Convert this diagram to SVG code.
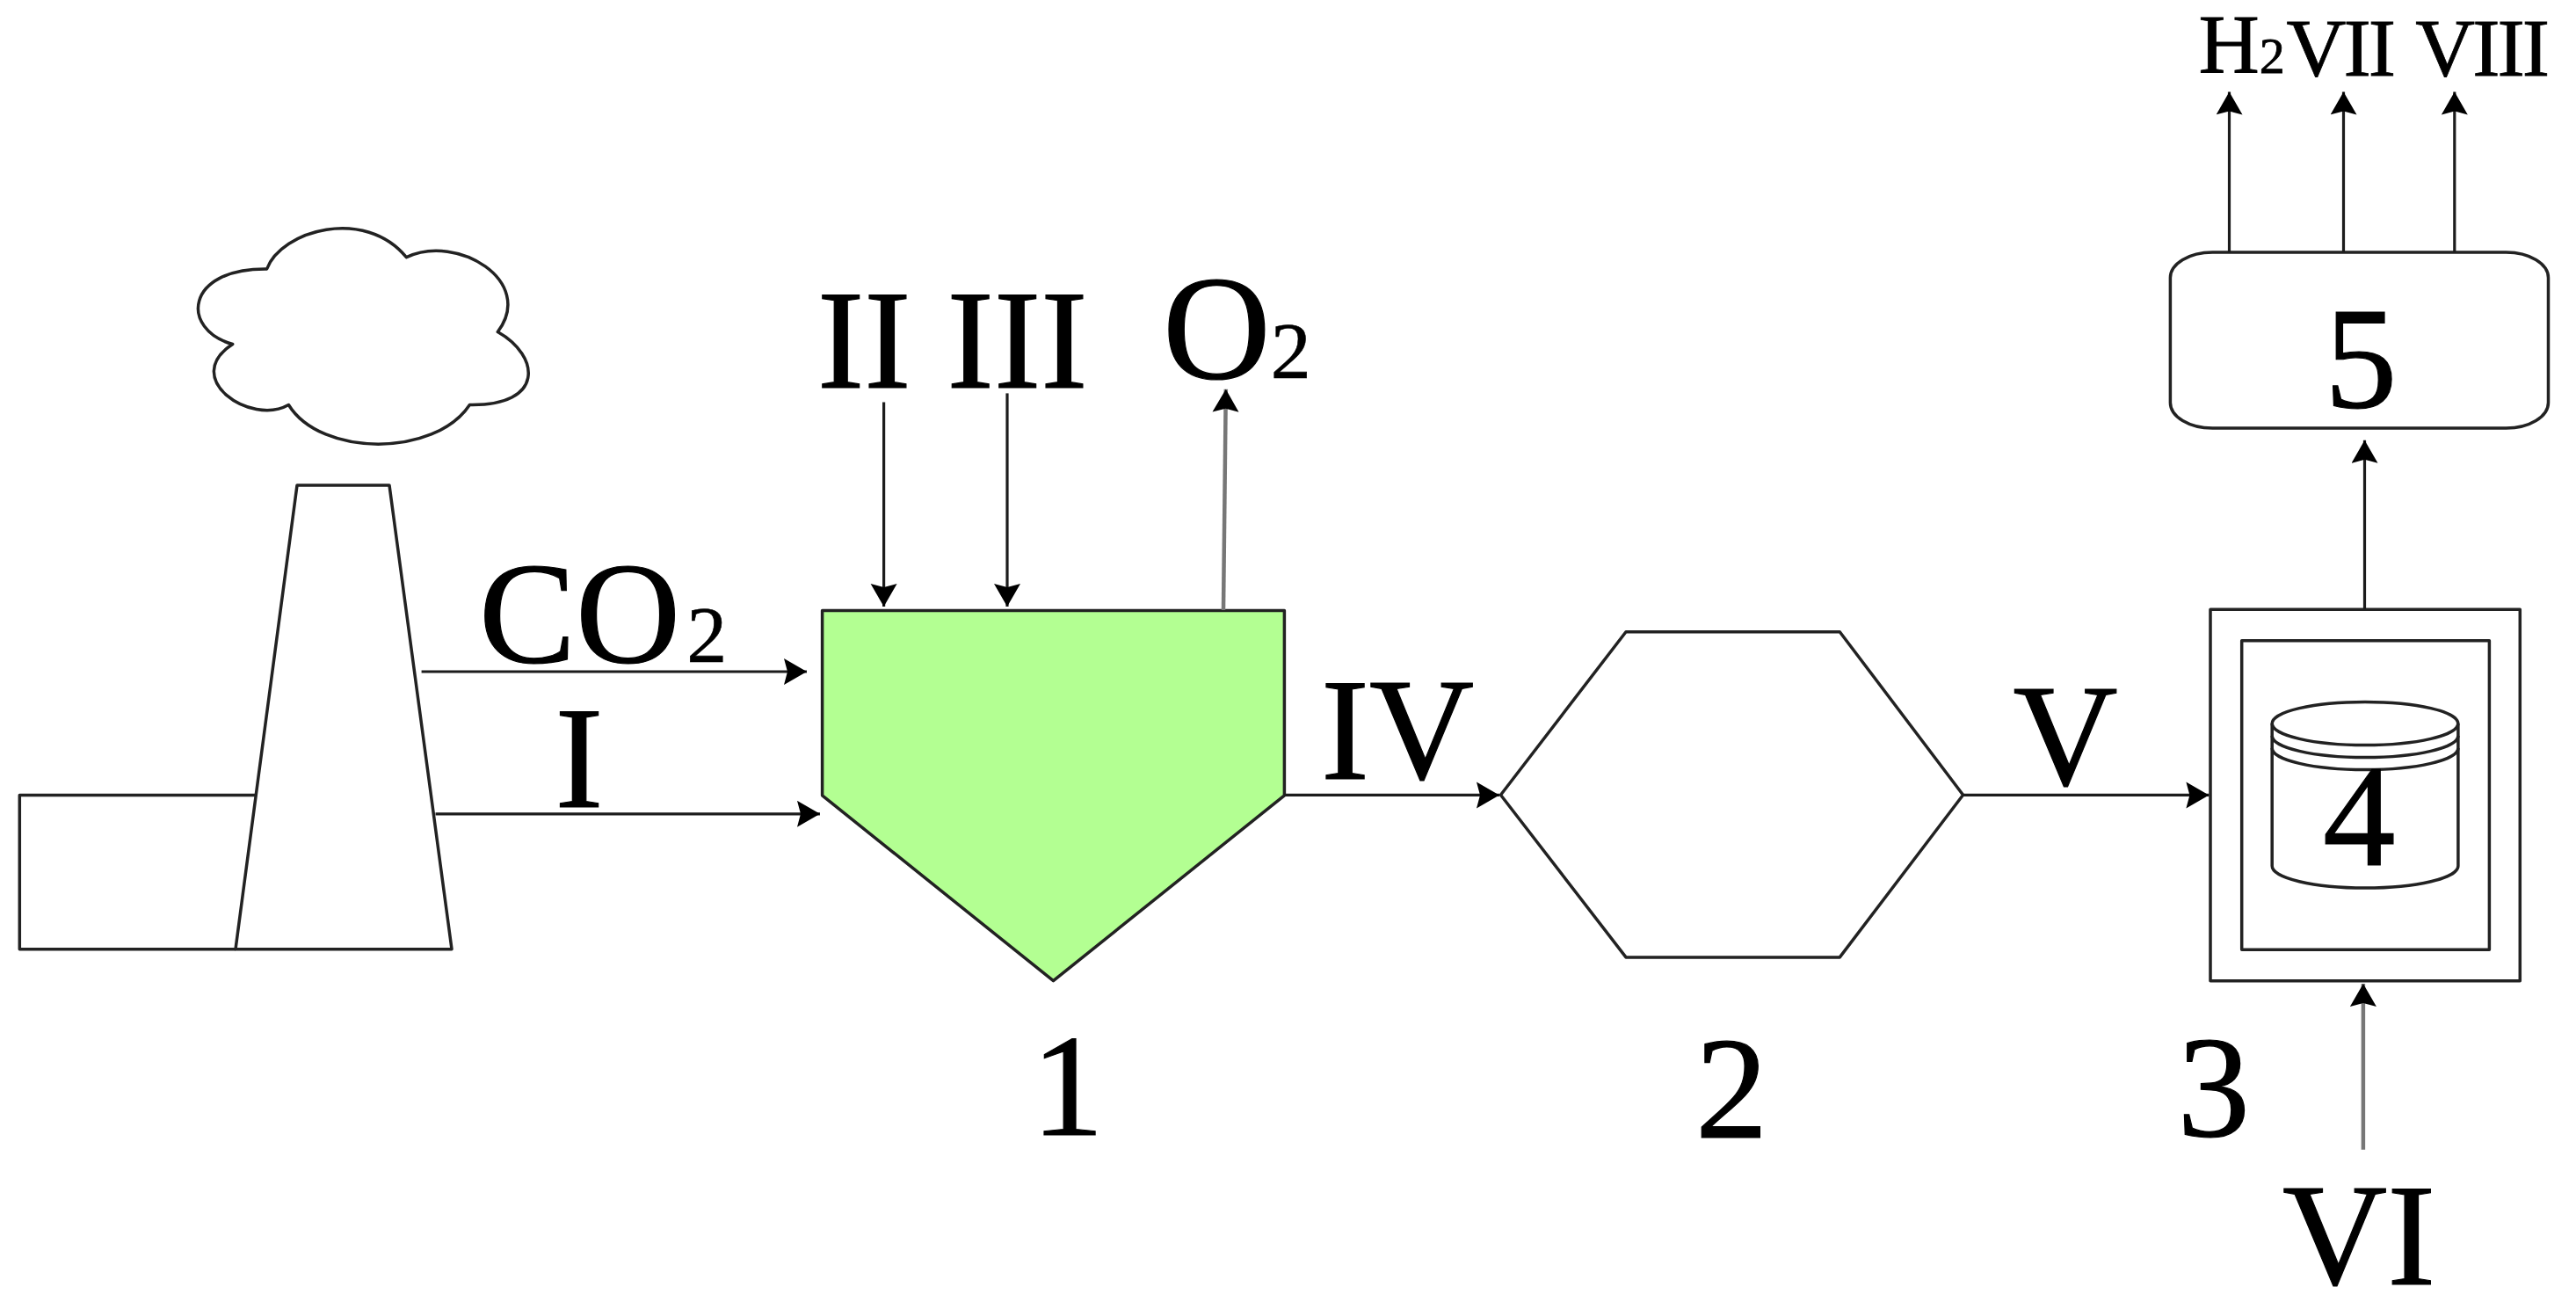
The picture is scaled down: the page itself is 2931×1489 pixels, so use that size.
<svg xmlns="http://www.w3.org/2000/svg" width="2931" height="1489" viewBox="0 0 2931 1489">
<style>
.s{fill:#fff;stroke:#222;stroke-width:3.5;stroke-linejoin:round}
.n{fill:none;stroke:#222;stroke-width:3.5}
.c{fill:none;stroke:#1c1c1c;stroke-width:3.2;marker-end:url(#a)}
.g{stroke:#777;stroke-width:4.5}
text{font-family:"Liberation Serif","Times New Roman",serif;fill:#000;stroke:#000;stroke-width:1.2}
.t{font-size:165px}
.r{font-size:160px}
.o{font-size:92px;stroke-width:.6}
.m{font-size:94px;letter-spacing:-3px;stroke-width:.8}
</style>
<defs>
<marker id="a" markerUnits="userSpaceOnUse" markerWidth="30" markerHeight="32" refX="26" refY="15" orient="auto">
<path d="M0,0 L26,15 L0,30 L4,15 Z" fill="#000"/>
</marker>
</defs>
<rect width="2931" height="1489" fill="#fff"/>
<g id="factory">
<path class="s" d="M291.5,904.6 H22.3 V1079.7 H268"/>
<path class="s" d="M338,552 H443 L514,1079.7 H268 Z"/>
<path class="s" d="M303.6,306 C320,262 415,235 462.4,292.7 C520,265 610,320 566.3,377.5 C615,405 620,462 534.4,460.5 C495,520 365,520 328.4,460.5 C285,485 205,430 264.7,391.5 C205,375 210,305 303.6,306 Z"/>
</g>
<g id="node1">
<path d="M935.6,694.5 H1461.4 V904.8 L1198.5,1115.7 L935.6,904.8 Z" fill="#b3ff92" stroke="#222" stroke-width="3.5" stroke-linejoin="round"/>
<text class="t" x="1173.5" y="1291">1</text>
</g>
<g id="node2">
<path class="s" d="M1707.5,904.2 L1850,718.7 H2093.3 L2233.6,904.2 L2093.3,1088.9 H1850 Z"/>
<text class="t" x="1929" y="1293.5">2</text>
</g>
<g id="node3">
<rect class="s" x="2515" y="693.3" width="352.3" height="422.5"/>
<rect class="s" x="2550.7" y="728.7" width="281.7" height="351.6"/>
<text class="t" x="2477.5" y="1291.8">3</text>
</g>
<g id="node4">
<path class="n" d="M2585.2,823 V985 A105.8,25 0 0 0 2796.9,985 V823"/>
<ellipse class="n" cx="2691" cy="823" rx="105.8" ry="24.6"/>
<path class="n" d="M2585.2,837 A105.8,24.6 0 0 0 2796.9,837 M2585.2,851 A105.8,24.6 0 0 0 2796.9,851"/>
<text class="t" x="2643" y="983.6">4</text>
</g>
<g id="node5">
<rect class="s" x="2469.4" y="286.9" width="430.1" height="200" rx="48" ry="29"/>
<text class="t" x="2645" y="463">5</text>
</g>
<g id="connectors">
<path class="c" d="M479.6,764 H918"/>
<path class="c" d="M495.5,925.8 H933"/>
<path class="c" d="M1005.6,457.5 V690"/>
<path class="c" d="M1146,447.4 V690"/>
<path class="c g" d="M1392,694 L1394.8,442.7"/>
<path class="c" d="M1461,904.4 H1706"/>
<path class="c" d="M2233.6,904.4 H2513.4"/>
<path class="c g" d="M2688.9,1307.7 V1119"/>
<path class="c" d="M2690.5,693 V500.8"/>
<path class="c" d="M2536.5,287 V104.5"/>
<path class="c" d="M2666.5,287 V104.5"/>
<path class="c" d="M2792.8,287 V104.5"/>
</g>
<g id="labels">
<text class="t" x="545" y="752.6">CO<tspan class="o" dx="7">2</tspan></text>
<text class="t" x="631.6" y="918">I</text>
<text class="r" x="930" y="440.7">II</text>
<text class="r" x="1077.6" y="440.7">III</text>
<text style="font-size:170px" x="1323" y="430">O<tspan class="o">2</tspan></text>
<text class="t" x="1503" y="885.5">IV</text>
<text class="t" x="2290.5" y="893">V</text>
<text class="t" x="2597" y="1461">VI</text>
<text style="font-size:96px;stroke-width:.8" x="2501.5" y="83">H<tspan style="font-size:58px">2</tspan></text>
<text class="m" x="2601.5" y="86">VII</text>
<text class="m" x="2748.3" y="86">VIII</text>
</g>
</svg>
